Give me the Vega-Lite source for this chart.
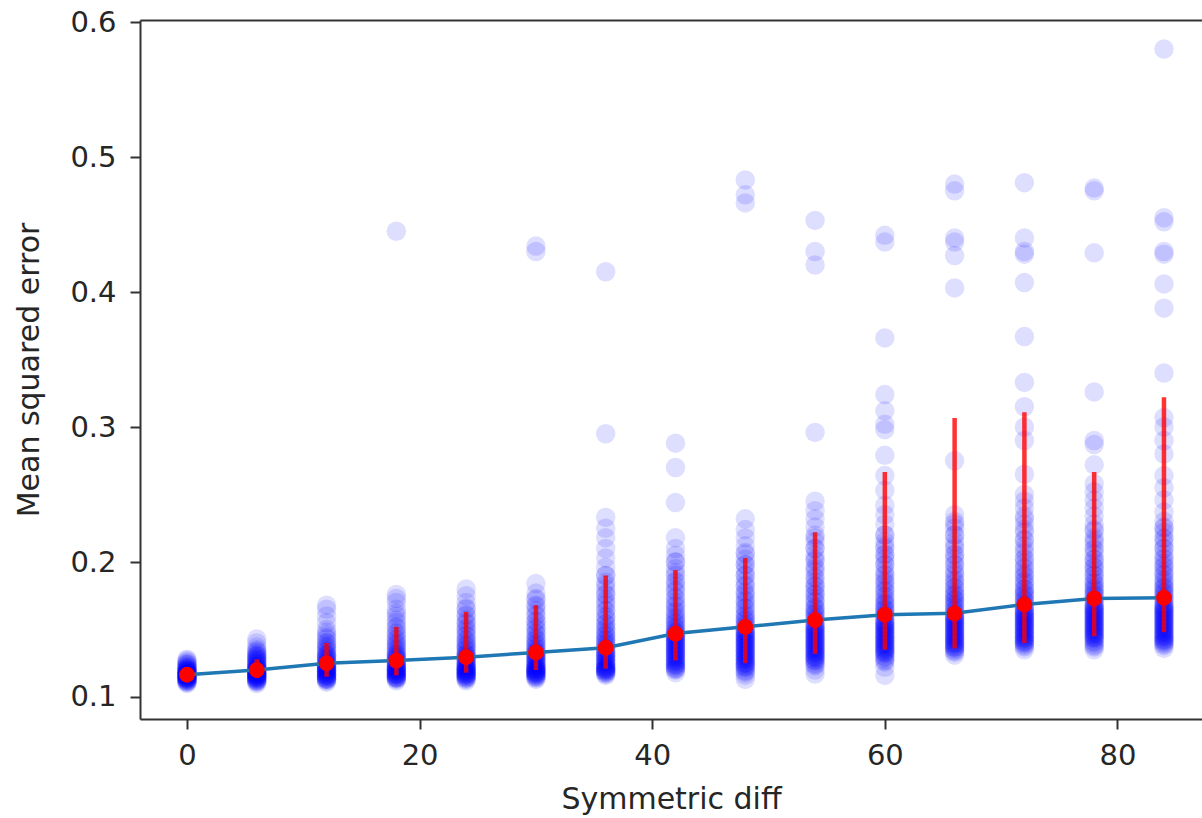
{
"$schema":"https://vega.github.io/schema/vega-lite/v6.json",
"width":1062,"height":699,
"autosize":{"type":"none"},
"padding":{"left":140,"top":20,"right":0,"bottom":99},
"background":"white",
"config":{"view":{"stroke":null},
"axis":{"labelFont":"DejaVu Sans","titleFont":"DejaVu Sans","labelFontSize":29,"titleFontSize":30,"labelColor":"#262626","titleColor":"#262626","titleFontWeight":"normal","domainColor":"#333","domainWidth":2,"tickColor":"#333","tickWidth":2,"tickSize":10,"grid":false}},
"datasets":{
"pts":[
{"diff":0,"mse":0.110},{"diff":0,"mse":0.111},{"diff":0,"mse":0.111},{"diff":0,"mse":0.112},{"diff":0,"mse":0.112},{"diff":0,"mse":0.113},{"diff":0,"mse":0.113},{"diff":0,"mse":0.113},{"diff":0,"mse":0.114},{"diff":0,"mse":0.114},{"diff":0,"mse":0.114},{"diff":0,"mse":0.115},{"diff":0,"mse":0.115},{"diff":0,"mse":0.115},{"diff":0,"mse":0.115},{"diff":0,"mse":0.116},{"diff":0,"mse":0.116},{"diff":0,"mse":0.116},{"diff":0,"mse":0.116},{"diff":0,"mse":0.117},{"diff":0,"mse":0.117},{"diff":0,"mse":0.117},{"diff":0,"mse":0.117},{"diff":0,"mse":0.118},{"diff":0,"mse":0.118},{"diff":0,"mse":0.118},{"diff":0,"mse":0.119},{"diff":0,"mse":0.119},{"diff":0,"mse":0.119},{"diff":0,"mse":0.120},{"diff":0,"mse":0.120},{"diff":0,"mse":0.121},{"diff":0,"mse":0.121},{"diff":0,"mse":0.122},{"diff":0,"mse":0.123},{"diff":0,"mse":0.124},{"diff":0,"mse":0.125},{"diff":0,"mse":0.126},{"diff":0,"mse":0.127},{"diff":0,"mse":0.128},
{"diff":0,"mse":0.112},{"diff":0,"mse":0.114},{"diff":0,"mse":0.116},{"diff":0,"mse":0.118},{"diff":0,"mse":0.120},{"diff":0,"mse":0.122},{"diff":0,"mse":0.124},
{"diff":6,"mse":0.110},{"diff":6,"mse":0.111},{"diff":6,"mse":0.112},{"diff":6,"mse":0.112},{"diff":6,"mse":0.113},{"diff":6,"mse":0.113},{"diff":6,"mse":0.114},{"diff":6,"mse":0.114},{"diff":6,"mse":0.115},{"diff":6,"mse":0.115},{"diff":6,"mse":0.115},{"diff":6,"mse":0.116},{"diff":6,"mse":0.116},{"diff":6,"mse":0.116},{"diff":6,"mse":0.117},{"diff":6,"mse":0.117},{"diff":6,"mse":0.117},{"diff":6,"mse":0.118},{"diff":6,"mse":0.118},{"diff":6,"mse":0.118},{"diff":6,"mse":0.119},{"diff":6,"mse":0.119},{"diff":6,"mse":0.120},{"diff":6,"mse":0.120},{"diff":6,"mse":0.121},{"diff":6,"mse":0.121},{"diff":6,"mse":0.122},{"diff":6,"mse":0.122},{"diff":6,"mse":0.123},{"diff":6,"mse":0.124},{"diff":6,"mse":0.125},{"diff":6,"mse":0.126},{"diff":6,"mse":0.127},{"diff":6,"mse":0.128},{"diff":6,"mse":0.129},{"diff":6,"mse":0.130},{"diff":6,"mse":0.131},{"diff":6,"mse":0.133},{"diff":6,"mse":0.135},{"diff":6,"mse":0.137},{"diff":6,"mse":0.140},{"diff":6,"mse":0.143},
{"diff":6,"mse":0.112},{"diff":6,"mse":0.114},{"diff":6,"mse":0.116},{"diff":6,"mse":0.118},{"diff":6,"mse":0.120},{"diff":6,"mse":0.122},{"diff":6,"mse":0.124},{"diff":6,"mse":0.126},{"diff":6,"mse":0.128},{"diff":6,"mse":0.130},{"diff":6,"mse":0.132},{"diff":6,"mse":0.134},
{"diff":12,"mse":0.111},{"diff":12,"mse":0.112},{"diff":12,"mse":0.113},{"diff":12,"mse":0.113},{"diff":12,"mse":0.114},{"diff":12,"mse":0.114},{"diff":12,"mse":0.115},{"diff":12,"mse":0.115},{"diff":12,"mse":0.116},{"diff":12,"mse":0.116},{"diff":12,"mse":0.117},{"diff":12,"mse":0.117},{"diff":12,"mse":0.118},{"diff":12,"mse":0.118},{"diff":12,"mse":0.119},{"diff":12,"mse":0.119},{"diff":12,"mse":0.120},{"diff":12,"mse":0.120},{"diff":12,"mse":0.121},{"diff":12,"mse":0.121},{"diff":12,"mse":0.122},{"diff":12,"mse":0.122},{"diff":12,"mse":0.123},{"diff":12,"mse":0.123},{"diff":12,"mse":0.124},{"diff":12,"mse":0.125},{"diff":12,"mse":0.126},{"diff":12,"mse":0.127},{"diff":12,"mse":0.128},{"diff":12,"mse":0.129},{"diff":12,"mse":0.130},{"diff":12,"mse":0.131},{"diff":12,"mse":0.132},{"diff":12,"mse":0.134},{"diff":12,"mse":0.136},{"diff":12,"mse":0.138},{"diff":12,"mse":0.140},{"diff":12,"mse":0.143},{"diff":12,"mse":0.146},{"diff":12,"mse":0.150},{"diff":12,"mse":0.155},{"diff":12,"mse":0.160},{"diff":12,"mse":0.165},{"diff":12,"mse":0.168},
{"diff":12,"mse":0.113},{"diff":12,"mse":0.116},{"diff":12,"mse":0.119},{"diff":12,"mse":0.122},{"diff":12,"mse":0.125},{"diff":12,"mse":0.128},{"diff":12,"mse":0.131},{"diff":12,"mse":0.134},{"diff":12,"mse":0.137},{"diff":12,"mse":0.140},{"diff":12,"mse":0.144},{"diff":12,"mse":0.148},
{"diff":18,"mse":0.112},{"diff":18,"mse":0.113},{"diff":18,"mse":0.114},{"diff":18,"mse":0.114},{"diff":18,"mse":0.115},{"diff":18,"mse":0.115},{"diff":18,"mse":0.116},{"diff":18,"mse":0.116},{"diff":18,"mse":0.117},{"diff":18,"mse":0.117},{"diff":18,"mse":0.118},{"diff":18,"mse":0.118},{"diff":18,"mse":0.119},{"diff":18,"mse":0.119},{"diff":18,"mse":0.120},{"diff":18,"mse":0.120},{"diff":18,"mse":0.121},{"diff":18,"mse":0.121},{"diff":18,"mse":0.122},{"diff":18,"mse":0.122},{"diff":18,"mse":0.123},{"diff":18,"mse":0.124},{"diff":18,"mse":0.125},{"diff":18,"mse":0.126},{"diff":18,"mse":0.127},{"diff":18,"mse":0.128},{"diff":18,"mse":0.129},{"diff":18,"mse":0.130},{"diff":18,"mse":0.131},{"diff":18,"mse":0.132},{"diff":18,"mse":0.134},{"diff":18,"mse":0.136},{"diff":18,"mse":0.138},{"diff":18,"mse":0.140},{"diff":18,"mse":0.142},{"diff":18,"mse":0.145},{"diff":18,"mse":0.148},{"diff":18,"mse":0.151},{"diff":18,"mse":0.155},{"diff":18,"mse":0.160},{"diff":18,"mse":0.165},{"diff":18,"mse":0.170},{"diff":18,"mse":0.173},{"diff":18,"mse":0.176},{"diff":18,"mse":0.445},
{"diff":18,"mse":0.114},{"diff":18,"mse":0.117},{"diff":18,"mse":0.120},{"diff":18,"mse":0.123},{"diff":18,"mse":0.126},{"diff":18,"mse":0.129},{"diff":18,"mse":0.132},{"diff":18,"mse":0.135},{"diff":18,"mse":0.139},{"diff":18,"mse":0.143},{"diff":18,"mse":0.147},{"diff":18,"mse":0.152},{"diff":18,"mse":0.157},{"diff":18,"mse":0.162},
{"diff":24,"mse":0.112},{"diff":24,"mse":0.113},{"diff":24,"mse":0.114},{"diff":24,"mse":0.115},{"diff":24,"mse":0.115},{"diff":24,"mse":0.116},{"diff":24,"mse":0.116},{"diff":24,"mse":0.117},{"diff":24,"mse":0.117},{"diff":24,"mse":0.118},{"diff":24,"mse":0.118},{"diff":24,"mse":0.119},{"diff":24,"mse":0.119},{"diff":24,"mse":0.120},{"diff":24,"mse":0.120},{"diff":24,"mse":0.121},{"diff":24,"mse":0.121},{"diff":24,"mse":0.122},{"diff":24,"mse":0.122},{"diff":24,"mse":0.123},{"diff":24,"mse":0.124},{"diff":24,"mse":0.125},{"diff":24,"mse":0.126},{"diff":24,"mse":0.127},{"diff":24,"mse":0.128},{"diff":24,"mse":0.129},{"diff":24,"mse":0.130},{"diff":24,"mse":0.131},{"diff":24,"mse":0.132},{"diff":24,"mse":0.134},{"diff":24,"mse":0.136},{"diff":24,"mse":0.138},{"diff":24,"mse":0.140},{"diff":24,"mse":0.142},{"diff":24,"mse":0.145},{"diff":24,"mse":0.148},{"diff":24,"mse":0.151},{"diff":24,"mse":0.154},{"diff":24,"mse":0.157},{"diff":24,"mse":0.161},{"diff":24,"mse":0.165},{"diff":24,"mse":0.170},{"diff":24,"mse":0.175},{"diff":24,"mse":0.180},
{"diff":24,"mse":0.114},{"diff":24,"mse":0.117},{"diff":24,"mse":0.120},{"diff":24,"mse":0.123},{"diff":24,"mse":0.126},{"diff":24,"mse":0.129},{"diff":24,"mse":0.132},{"diff":24,"mse":0.135},{"diff":24,"mse":0.138},{"diff":24,"mse":0.142},{"diff":24,"mse":0.146},{"diff":24,"mse":0.150},{"diff":24,"mse":0.155},{"diff":24,"mse":0.160},{"diff":24,"mse":0.166},
{"diff":30,"mse":0.113},{"diff":30,"mse":0.114},{"diff":30,"mse":0.115},{"diff":30,"mse":0.116},{"diff":30,"mse":0.116},{"diff":30,"mse":0.117},{"diff":30,"mse":0.117},{"diff":30,"mse":0.118},{"diff":30,"mse":0.118},{"diff":30,"mse":0.119},{"diff":30,"mse":0.119},{"diff":30,"mse":0.120},{"diff":30,"mse":0.120},{"diff":30,"mse":0.121},{"diff":30,"mse":0.121},{"diff":30,"mse":0.122},{"diff":30,"mse":0.122},{"diff":30,"mse":0.123},{"diff":30,"mse":0.124},{"diff":30,"mse":0.125},{"diff":30,"mse":0.126},{"diff":30,"mse":0.127},{"diff":30,"mse":0.128},{"diff":30,"mse":0.129},{"diff":30,"mse":0.130},{"diff":30,"mse":0.131},{"diff":30,"mse":0.132},{"diff":30,"mse":0.133},{"diff":30,"mse":0.134},{"diff":30,"mse":0.136},{"diff":30,"mse":0.138},{"diff":30,"mse":0.140},{"diff":30,"mse":0.142},{"diff":30,"mse":0.144},{"diff":30,"mse":0.147},{"diff":30,"mse":0.150},{"diff":30,"mse":0.153},{"diff":30,"mse":0.156},{"diff":30,"mse":0.160},{"diff":30,"mse":0.164},{"diff":30,"mse":0.168},{"diff":30,"mse":0.172},{"diff":30,"mse":0.177},{"diff":30,"mse":0.184},{"diff":30,"mse":0.430},{"diff":30,"mse":0.434},
{"diff":30,"mse":0.115},{"diff":30,"mse":0.118},{"diff":30,"mse":0.121},{"diff":30,"mse":0.124},{"diff":30,"mse":0.127},{"diff":30,"mse":0.130},{"diff":30,"mse":0.133},{"diff":30,"mse":0.136},{"diff":30,"mse":0.139},{"diff":30,"mse":0.143},{"diff":30,"mse":0.147},{"diff":30,"mse":0.151},{"diff":30,"mse":0.156},{"diff":30,"mse":0.161},{"diff":30,"mse":0.167},{"diff":30,"mse":0.173},
{"diff":36,"mse":0.116},{"diff":36,"mse":0.117},{"diff":36,"mse":0.118},{"diff":36,"mse":0.119},{"diff":36,"mse":0.119},{"diff":36,"mse":0.120},{"diff":36,"mse":0.120},{"diff":36,"mse":0.121},{"diff":36,"mse":0.121},{"diff":36,"mse":0.122},{"diff":36,"mse":0.122},{"diff":36,"mse":0.123},{"diff":36,"mse":0.124},{"diff":36,"mse":0.125},{"diff":36,"mse":0.126},{"diff":36,"mse":0.127},{"diff":36,"mse":0.128},{"diff":36,"mse":0.129},{"diff":36,"mse":0.130},{"diff":36,"mse":0.131},{"diff":36,"mse":0.132},{"diff":36,"mse":0.133},{"diff":36,"mse":0.134},{"diff":36,"mse":0.136},{"diff":36,"mse":0.138},{"diff":36,"mse":0.140},{"diff":36,"mse":0.142},{"diff":36,"mse":0.144},{"diff":36,"mse":0.146},{"diff":36,"mse":0.148},{"diff":36,"mse":0.151},{"diff":36,"mse":0.154},{"diff":36,"mse":0.157},{"diff":36,"mse":0.160},{"diff":36,"mse":0.164},{"diff":36,"mse":0.168},{"diff":36,"mse":0.172},{"diff":36,"mse":0.176},{"diff":36,"mse":0.180},{"diff":36,"mse":0.185},{"diff":36,"mse":0.190},{"diff":36,"mse":0.196},{"diff":36,"mse":0.203},{"diff":36,"mse":0.210},{"diff":36,"mse":0.218},{"diff":36,"mse":0.225},{"diff":36,"mse":0.233},{"diff":36,"mse":0.295},{"diff":36,"mse":0.415},
{"diff":36,"mse":0.118},{"diff":36,"mse":0.121},{"diff":36,"mse":0.124},{"diff":36,"mse":0.127},{"diff":36,"mse":0.130},{"diff":36,"mse":0.133},{"diff":36,"mse":0.136},{"diff":36,"mse":0.139},{"diff":36,"mse":0.142},{"diff":36,"mse":0.146},{"diff":36,"mse":0.150},{"diff":36,"mse":0.154},{"diff":36,"mse":0.159},{"diff":36,"mse":0.164},{"diff":36,"mse":0.170},{"diff":36,"mse":0.176},{"diff":36,"mse":0.183},{"diff":36,"mse":0.190},
{"diff":42,"mse":0.118},{"diff":42,"mse":0.120},{"diff":42,"mse":0.121},{"diff":42,"mse":0.122},{"diff":42,"mse":0.123},{"diff":42,"mse":0.124},{"diff":42,"mse":0.125},{"diff":42,"mse":0.126},{"diff":42,"mse":0.127},{"diff":42,"mse":0.128},{"diff":42,"mse":0.129},{"diff":42,"mse":0.130},{"diff":42,"mse":0.131},{"diff":42,"mse":0.132},{"diff":42,"mse":0.133},{"diff":42,"mse":0.134},{"diff":42,"mse":0.135},{"diff":42,"mse":0.136},{"diff":42,"mse":0.137},{"diff":42,"mse":0.138},{"diff":42,"mse":0.139},{"diff":42,"mse":0.140},{"diff":42,"mse":0.141},{"diff":42,"mse":0.142},{"diff":42,"mse":0.143},{"diff":42,"mse":0.144},{"diff":42,"mse":0.145},{"diff":42,"mse":0.146},{"diff":42,"mse":0.147},{"diff":42,"mse":0.148},{"diff":42,"mse":0.150},{"diff":42,"mse":0.152},{"diff":42,"mse":0.154},{"diff":42,"mse":0.156},{"diff":42,"mse":0.158},{"diff":42,"mse":0.161},{"diff":42,"mse":0.164},{"diff":42,"mse":0.167},{"diff":42,"mse":0.170},{"diff":42,"mse":0.174},{"diff":42,"mse":0.178},{"diff":42,"mse":0.182},{"diff":42,"mse":0.186},{"diff":42,"mse":0.190},{"diff":42,"mse":0.195},{"diff":42,"mse":0.200},{"diff":42,"mse":0.205},{"diff":42,"mse":0.210},{"diff":42,"mse":0.218},{"diff":42,"mse":0.244},{"diff":42,"mse":0.270},{"diff":42,"mse":0.288},
{"diff":42,"mse":0.121},{"diff":42,"mse":0.124},{"diff":42,"mse":0.127},{"diff":42,"mse":0.130},{"diff":42,"mse":0.133},{"diff":42,"mse":0.136},{"diff":42,"mse":0.139},{"diff":42,"mse":0.142},{"diff":42,"mse":0.145},{"diff":42,"mse":0.148},{"diff":42,"mse":0.151},{"diff":42,"mse":0.155},{"diff":42,"mse":0.159},{"diff":42,"mse":0.163},{"diff":42,"mse":0.168},{"diff":42,"mse":0.173},{"diff":42,"mse":0.179},{"diff":42,"mse":0.185},{"diff":42,"mse":0.192},{"diff":42,"mse":0.200},
{"diff":48,"mse":0.113},{"diff":48,"mse":0.116},{"diff":48,"mse":0.118},{"diff":48,"mse":0.120},{"diff":48,"mse":0.122},{"diff":48,"mse":0.123},{"diff":48,"mse":0.124},{"diff":48,"mse":0.125},{"diff":48,"mse":0.126},{"diff":48,"mse":0.127},{"diff":48,"mse":0.128},{"diff":48,"mse":0.129},{"diff":48,"mse":0.130},{"diff":48,"mse":0.131},{"diff":48,"mse":0.132},{"diff":48,"mse":0.133},{"diff":48,"mse":0.134},{"diff":48,"mse":0.135},{"diff":48,"mse":0.136},{"diff":48,"mse":0.137},{"diff":48,"mse":0.138},{"diff":48,"mse":0.139},{"diff":48,"mse":0.140},{"diff":48,"mse":0.141},{"diff":48,"mse":0.142},{"diff":48,"mse":0.143},{"diff":48,"mse":0.144},{"diff":48,"mse":0.145},{"diff":48,"mse":0.146},{"diff":48,"mse":0.147},{"diff":48,"mse":0.148},{"diff":48,"mse":0.149},{"diff":48,"mse":0.150},{"diff":48,"mse":0.152},{"diff":48,"mse":0.154},{"diff":48,"mse":0.156},{"diff":48,"mse":0.158},{"diff":48,"mse":0.160},{"diff":48,"mse":0.163},{"diff":48,"mse":0.166},{"diff":48,"mse":0.169},{"diff":48,"mse":0.172},{"diff":48,"mse":0.175},{"diff":48,"mse":0.178},{"diff":48,"mse":0.182},{"diff":48,"mse":0.186},{"diff":48,"mse":0.190},{"diff":48,"mse":0.194},{"diff":48,"mse":0.198},{"diff":48,"mse":0.202},{"diff":48,"mse":0.207},{"diff":48,"mse":0.212},{"diff":48,"mse":0.218},{"diff":48,"mse":0.224},{"diff":48,"mse":0.232},{"diff":48,"mse":0.466},{"diff":48,"mse":0.472},{"diff":48,"mse":0.483},
{"diff":48,"mse":0.119},{"diff":48,"mse":0.122},{"diff":48,"mse":0.125},{"diff":48,"mse":0.128},{"diff":48,"mse":0.131},{"diff":48,"mse":0.134},{"diff":48,"mse":0.137},{"diff":48,"mse":0.140},{"diff":48,"mse":0.143},{"diff":48,"mse":0.146},{"diff":48,"mse":0.149},{"diff":48,"mse":0.153},{"diff":48,"mse":0.157},{"diff":48,"mse":0.161},{"diff":48,"mse":0.166},{"diff":48,"mse":0.171},{"diff":48,"mse":0.177},{"diff":48,"mse":0.183},{"diff":48,"mse":0.190},{"diff":48,"mse":0.198},{"diff":48,"mse":0.206},
{"diff":54,"mse":0.117},{"diff":54,"mse":0.120},{"diff":54,"mse":0.123},{"diff":54,"mse":0.125},{"diff":54,"mse":0.127},{"diff":54,"mse":0.128},{"diff":54,"mse":0.129},{"diff":54,"mse":0.130},{"diff":54,"mse":0.131},{"diff":54,"mse":0.132},{"diff":54,"mse":0.133},{"diff":54,"mse":0.134},{"diff":54,"mse":0.135},{"diff":54,"mse":0.136},{"diff":54,"mse":0.137},{"diff":54,"mse":0.138},{"diff":54,"mse":0.139},{"diff":54,"mse":0.140},{"diff":54,"mse":0.141},{"diff":54,"mse":0.142},{"diff":54,"mse":0.143},{"diff":54,"mse":0.144},{"diff":54,"mse":0.145},{"diff":54,"mse":0.146},{"diff":54,"mse":0.147},{"diff":54,"mse":0.148},{"diff":54,"mse":0.149},{"diff":54,"mse":0.150},{"diff":54,"mse":0.151},{"diff":54,"mse":0.152},{"diff":54,"mse":0.153},{"diff":54,"mse":0.155},{"diff":54,"mse":0.157},{"diff":54,"mse":0.159},{"diff":54,"mse":0.161},{"diff":54,"mse":0.163},{"diff":54,"mse":0.165},{"diff":54,"mse":0.167},{"diff":54,"mse":0.170},{"diff":54,"mse":0.173},{"diff":54,"mse":0.176},{"diff":54,"mse":0.179},{"diff":54,"mse":0.182},{"diff":54,"mse":0.185},{"diff":54,"mse":0.189},{"diff":54,"mse":0.193},{"diff":54,"mse":0.197},{"diff":54,"mse":0.201},{"diff":54,"mse":0.205},{"diff":54,"mse":0.210},{"diff":54,"mse":0.215},{"diff":54,"mse":0.220},{"diff":54,"mse":0.226},{"diff":54,"mse":0.232},{"diff":54,"mse":0.238},{"diff":54,"mse":0.245},{"diff":54,"mse":0.296},{"diff":54,"mse":0.420},{"diff":54,"mse":0.430},{"diff":54,"mse":0.453},
{"diff":54,"mse":0.124},{"diff":54,"mse":0.127},{"diff":54,"mse":0.130},{"diff":54,"mse":0.133},{"diff":54,"mse":0.136},{"diff":54,"mse":0.139},{"diff":54,"mse":0.142},{"diff":54,"mse":0.145},{"diff":54,"mse":0.148},{"diff":54,"mse":0.151},{"diff":54,"mse":0.154},{"diff":54,"mse":0.158},{"diff":54,"mse":0.162},{"diff":54,"mse":0.166},{"diff":54,"mse":0.171},{"diff":54,"mse":0.176},{"diff":54,"mse":0.182},{"diff":54,"mse":0.188},{"diff":54,"mse":0.195},{"diff":54,"mse":0.202},{"diff":54,"mse":0.210},{"diff":54,"mse":0.218},
{"diff":60,"mse":0.116},{"diff":60,"mse":0.122},{"diff":60,"mse":0.126},{"diff":60,"mse":0.128},{"diff":60,"mse":0.130},{"diff":60,"mse":0.132},{"diff":60,"mse":0.133},{"diff":60,"mse":0.134},{"diff":60,"mse":0.135},{"diff":60,"mse":0.136},{"diff":60,"mse":0.137},{"diff":60,"mse":0.138},{"diff":60,"mse":0.139},{"diff":60,"mse":0.140},{"diff":60,"mse":0.141},{"diff":60,"mse":0.142},{"diff":60,"mse":0.143},{"diff":60,"mse":0.144},{"diff":60,"mse":0.145},{"diff":60,"mse":0.146},{"diff":60,"mse":0.147},{"diff":60,"mse":0.148},{"diff":60,"mse":0.149},{"diff":60,"mse":0.150},{"diff":60,"mse":0.151},{"diff":60,"mse":0.152},{"diff":60,"mse":0.153},{"diff":60,"mse":0.154},{"diff":60,"mse":0.155},{"diff":60,"mse":0.156},{"diff":60,"mse":0.158},{"diff":60,"mse":0.160},{"diff":60,"mse":0.162},{"diff":60,"mse":0.164},{"diff":60,"mse":0.166},{"diff":60,"mse":0.168},{"diff":60,"mse":0.170},{"diff":60,"mse":0.172},{"diff":60,"mse":0.175},{"diff":60,"mse":0.178},{"diff":60,"mse":0.181},{"diff":60,"mse":0.184},{"diff":60,"mse":0.187},{"diff":60,"mse":0.190},{"diff":60,"mse":0.194},{"diff":60,"mse":0.198},{"diff":60,"mse":0.202},{"diff":60,"mse":0.206},{"diff":60,"mse":0.210},{"diff":60,"mse":0.215},{"diff":60,"mse":0.220},{"diff":60,"mse":0.228},{"diff":60,"mse":0.235},{"diff":60,"mse":0.242},{"diff":60,"mse":0.253},{"diff":60,"mse":0.264},{"diff":60,"mse":0.279},{"diff":60,"mse":0.298},{"diff":60,"mse":0.302},{"diff":60,"mse":0.312},{"diff":60,"mse":0.324},{"diff":60,"mse":0.366},{"diff":60,"mse":0.437},{"diff":60,"mse":0.442},
{"diff":60,"mse":0.127},{"diff":60,"mse":0.130},{"diff":60,"mse":0.133},{"diff":60,"mse":0.136},{"diff":60,"mse":0.139},{"diff":60,"mse":0.142},{"diff":60,"mse":0.145},{"diff":60,"mse":0.148},{"diff":60,"mse":0.151},{"diff":60,"mse":0.154},{"diff":60,"mse":0.157},{"diff":60,"mse":0.161},{"diff":60,"mse":0.165},{"diff":60,"mse":0.169},{"diff":60,"mse":0.174},{"diff":60,"mse":0.179},{"diff":60,"mse":0.185},{"diff":60,"mse":0.191},{"diff":60,"mse":0.198},{"diff":60,"mse":0.205},{"diff":60,"mse":0.212},{"diff":60,"mse":0.220},
{"diff":66,"mse":0.131},{"diff":66,"mse":0.133},{"diff":66,"mse":0.135},{"diff":66,"mse":0.136},{"diff":66,"mse":0.137},{"diff":66,"mse":0.138},{"diff":66,"mse":0.139},{"diff":66,"mse":0.140},{"diff":66,"mse":0.141},{"diff":66,"mse":0.142},{"diff":66,"mse":0.143},{"diff":66,"mse":0.144},{"diff":66,"mse":0.145},{"diff":66,"mse":0.146},{"diff":66,"mse":0.147},{"diff":66,"mse":0.148},{"diff":66,"mse":0.149},{"diff":66,"mse":0.150},{"diff":66,"mse":0.151},{"diff":66,"mse":0.152},{"diff":66,"mse":0.153},{"diff":66,"mse":0.154},{"diff":66,"mse":0.155},{"diff":66,"mse":0.156},{"diff":66,"mse":0.157},{"diff":66,"mse":0.158},{"diff":66,"mse":0.159},{"diff":66,"mse":0.160},{"diff":66,"mse":0.162},{"diff":66,"mse":0.164},{"diff":66,"mse":0.166},{"diff":66,"mse":0.168},{"diff":66,"mse":0.170},{"diff":66,"mse":0.172},{"diff":66,"mse":0.174},{"diff":66,"mse":0.176},{"diff":66,"mse":0.178},{"diff":66,"mse":0.181},{"diff":66,"mse":0.184},{"diff":66,"mse":0.187},{"diff":66,"mse":0.190},{"diff":66,"mse":0.194},{"diff":66,"mse":0.198},{"diff":66,"mse":0.202},{"diff":66,"mse":0.206},{"diff":66,"mse":0.210},{"diff":66,"mse":0.215},{"diff":66,"mse":0.220},{"diff":66,"mse":0.225},{"diff":66,"mse":0.230},{"diff":66,"mse":0.235},{"diff":66,"mse":0.275},{"diff":66,"mse":0.403},{"diff":66,"mse":0.427},{"diff":66,"mse":0.437},{"diff":66,"mse":0.440},{"diff":66,"mse":0.475},{"diff":66,"mse":0.480},
{"diff":66,"mse":0.134},{"diff":66,"mse":0.137},{"diff":66,"mse":0.140},{"diff":66,"mse":0.143},{"diff":66,"mse":0.146},{"diff":66,"mse":0.149},{"diff":66,"mse":0.152},{"diff":66,"mse":0.155},{"diff":66,"mse":0.158},{"diff":66,"mse":0.161},{"diff":66,"mse":0.164},{"diff":66,"mse":0.168},{"diff":66,"mse":0.172},{"diff":66,"mse":0.176},{"diff":66,"mse":0.181},{"diff":66,"mse":0.186},{"diff":66,"mse":0.192},{"diff":66,"mse":0.198},{"diff":66,"mse":0.205},{"diff":66,"mse":0.212},{"diff":66,"mse":0.220},{"diff":66,"mse":0.228},
{"diff":72,"mse":0.135},{"diff":72,"mse":0.137},{"diff":72,"mse":0.139},{"diff":72,"mse":0.140},{"diff":72,"mse":0.141},{"diff":72,"mse":0.142},{"diff":72,"mse":0.143},{"diff":72,"mse":0.144},{"diff":72,"mse":0.145},{"diff":72,"mse":0.146},{"diff":72,"mse":0.147},{"diff":72,"mse":0.148},{"diff":72,"mse":0.149},{"diff":72,"mse":0.150},{"diff":72,"mse":0.151},{"diff":72,"mse":0.152},{"diff":72,"mse":0.153},{"diff":72,"mse":0.154},{"diff":72,"mse":0.155},{"diff":72,"mse":0.156},{"diff":72,"mse":0.157},{"diff":72,"mse":0.158},{"diff":72,"mse":0.159},{"diff":72,"mse":0.160},{"diff":72,"mse":0.161},{"diff":72,"mse":0.162},{"diff":72,"mse":0.163},{"diff":72,"mse":0.164},{"diff":72,"mse":0.166},{"diff":72,"mse":0.168},{"diff":72,"mse":0.170},{"diff":72,"mse":0.172},{"diff":72,"mse":0.174},{"diff":72,"mse":0.176},{"diff":72,"mse":0.178},{"diff":72,"mse":0.180},{"diff":72,"mse":0.183},{"diff":72,"mse":0.186},{"diff":72,"mse":0.189},{"diff":72,"mse":0.192},{"diff":72,"mse":0.195},{"diff":72,"mse":0.199},{"diff":72,"mse":0.203},{"diff":72,"mse":0.207},{"diff":72,"mse":0.212},{"diff":72,"mse":0.217},{"diff":72,"mse":0.222},{"diff":72,"mse":0.228},{"diff":72,"mse":0.234},{"diff":72,"mse":0.240},{"diff":72,"mse":0.245},{"diff":72,"mse":0.250},{"diff":72,"mse":0.265},{"diff":72,"mse":0.290},{"diff":72,"mse":0.300},{"diff":72,"mse":0.315},{"diff":72,"mse":0.333},{"diff":72,"mse":0.367},{"diff":72,"mse":0.407},{"diff":72,"mse":0.428},{"diff":72,"mse":0.430},{"diff":72,"mse":0.440},{"diff":72,"mse":0.481},
{"diff":72,"mse":0.138},{"diff":72,"mse":0.141},{"diff":72,"mse":0.144},{"diff":72,"mse":0.147},{"diff":72,"mse":0.150},{"diff":72,"mse":0.153},{"diff":72,"mse":0.156},{"diff":72,"mse":0.159},{"diff":72,"mse":0.162},{"diff":72,"mse":0.165},{"diff":72,"mse":0.168},{"diff":72,"mse":0.172},{"diff":72,"mse":0.176},{"diff":72,"mse":0.180},{"diff":72,"mse":0.185},{"diff":72,"mse":0.190},{"diff":72,"mse":0.196},{"diff":72,"mse":0.202},{"diff":72,"mse":0.209},{"diff":72,"mse":0.216},{"diff":72,"mse":0.224},{"diff":72,"mse":0.232},
{"diff":78,"mse":0.135},{"diff":78,"mse":0.137},{"diff":78,"mse":0.139},{"diff":78,"mse":0.141},{"diff":78,"mse":0.143},{"diff":78,"mse":0.144},{"diff":78,"mse":0.145},{"diff":78,"mse":0.146},{"diff":78,"mse":0.147},{"diff":78,"mse":0.148},{"diff":78,"mse":0.149},{"diff":78,"mse":0.150},{"diff":78,"mse":0.151},{"diff":78,"mse":0.152},{"diff":78,"mse":0.153},{"diff":78,"mse":0.154},{"diff":78,"mse":0.155},{"diff":78,"mse":0.156},{"diff":78,"mse":0.157},{"diff":78,"mse":0.158},{"diff":78,"mse":0.159},{"diff":78,"mse":0.160},{"diff":78,"mse":0.161},{"diff":78,"mse":0.162},{"diff":78,"mse":0.163},{"diff":78,"mse":0.164},{"diff":78,"mse":0.165},{"diff":78,"mse":0.166},{"diff":78,"mse":0.167},{"diff":78,"mse":0.168},{"diff":78,"mse":0.170},{"diff":78,"mse":0.172},{"diff":78,"mse":0.174},{"diff":78,"mse":0.176},{"diff":78,"mse":0.178},{"diff":78,"mse":0.180},{"diff":78,"mse":0.182},{"diff":78,"mse":0.184},{"diff":78,"mse":0.187},{"diff":78,"mse":0.190},{"diff":78,"mse":0.193},{"diff":78,"mse":0.196},{"diff":78,"mse":0.199},{"diff":78,"mse":0.202},{"diff":78,"mse":0.206},{"diff":78,"mse":0.210},{"diff":78,"mse":0.214},{"diff":78,"mse":0.218},{"diff":78,"mse":0.223},{"diff":78,"mse":0.228},{"diff":78,"mse":0.234},{"diff":78,"mse":0.240},{"diff":78,"mse":0.246},{"diff":78,"mse":0.252},{"diff":78,"mse":0.258},{"diff":78,"mse":0.272},{"diff":78,"mse":0.287},{"diff":78,"mse":0.290},{"diff":78,"mse":0.326},{"diff":78,"mse":0.429},{"diff":78,"mse":0.475},{"diff":78,"mse":0.477},
{"diff":78,"mse":0.138},{"diff":78,"mse":0.141},{"diff":78,"mse":0.144},{"diff":78,"mse":0.147},{"diff":78,"mse":0.150},{"diff":78,"mse":0.153},{"diff":78,"mse":0.156},{"diff":78,"mse":0.159},{"diff":78,"mse":0.162},{"diff":78,"mse":0.165},{"diff":78,"mse":0.168},{"diff":78,"mse":0.172},{"diff":78,"mse":0.176},{"diff":78,"mse":0.180},{"diff":78,"mse":0.185},{"diff":78,"mse":0.190},{"diff":78,"mse":0.196},{"diff":78,"mse":0.202},{"diff":78,"mse":0.209},{"diff":78,"mse":0.216},{"diff":78,"mse":0.224},
{"diff":84,"mse":0.136},{"diff":84,"mse":0.138},{"diff":84,"mse":0.140},{"diff":84,"mse":0.141},{"diff":84,"mse":0.142},{"diff":84,"mse":0.143},{"diff":84,"mse":0.144},{"diff":84,"mse":0.145},{"diff":84,"mse":0.146},{"diff":84,"mse":0.147},{"diff":84,"mse":0.148},{"diff":84,"mse":0.149},{"diff":84,"mse":0.150},{"diff":84,"mse":0.151},{"diff":84,"mse":0.152},{"diff":84,"mse":0.153},{"diff":84,"mse":0.154},{"diff":84,"mse":0.155},{"diff":84,"mse":0.156},{"diff":84,"mse":0.157},{"diff":84,"mse":0.158},{"diff":84,"mse":0.159},{"diff":84,"mse":0.160},{"diff":84,"mse":0.161},{"diff":84,"mse":0.162},{"diff":84,"mse":0.163},{"diff":84,"mse":0.164},{"diff":84,"mse":0.165},{"diff":84,"mse":0.166},{"diff":84,"mse":0.167},{"diff":84,"mse":0.168},{"diff":84,"mse":0.170},{"diff":84,"mse":0.172},{"diff":84,"mse":0.174},{"diff":84,"mse":0.176},{"diff":84,"mse":0.178},{"diff":84,"mse":0.180},{"diff":84,"mse":0.182},{"diff":84,"mse":0.184},{"diff":84,"mse":0.187},{"diff":84,"mse":0.190},{"diff":84,"mse":0.193},{"diff":84,"mse":0.196},{"diff":84,"mse":0.199},{"diff":84,"mse":0.202},{"diff":84,"mse":0.206},{"diff":84,"mse":0.210},{"diff":84,"mse":0.214},{"diff":84,"mse":0.218},{"diff":84,"mse":0.222},{"diff":84,"mse":0.226},{"diff":84,"mse":0.230},{"diff":84,"mse":0.237},{"diff":84,"mse":0.246},{"diff":84,"mse":0.255},{"diff":84,"mse":0.264},{"diff":84,"mse":0.280},{"diff":84,"mse":0.290},{"diff":84,"mse":0.300},{"diff":84,"mse":0.307},{"diff":84,"mse":0.340},{"diff":84,"mse":0.388},{"diff":84,"mse":0.406},{"diff":84,"mse":0.428},{"diff":84,"mse":0.430},{"diff":84,"mse":0.452},{"diff":84,"mse":0.455},{"diff":84,"mse":0.580},
{"diff":84,"mse":0.139},{"diff":84,"mse":0.142},{"diff":84,"mse":0.145},{"diff":84,"mse":0.148},{"diff":84,"mse":0.151},{"diff":84,"mse":0.154},{"diff":84,"mse":0.157},{"diff":84,"mse":0.160},{"diff":84,"mse":0.163},{"diff":84,"mse":0.166},{"diff":84,"mse":0.169},{"diff":84,"mse":0.173},{"diff":84,"mse":0.177},{"diff":84,"mse":0.181},{"diff":84,"mse":0.186},{"diff":84,"mse":0.191},{"diff":84,"mse":0.197},{"diff":84,"mse":0.203},{"diff":84,"mse":0.210},{"diff":84,"mse":0.217},{"diff":84,"mse":0.225}
],
"stats":[
{"diff":0,"mean":0.1165,"lo":0.113,"hi":0.121},
{"diff":6,"mean":0.120,"lo":0.114,"hi":0.128},
{"diff":12,"mean":0.125,"lo":0.115,"hi":0.140},
{"diff":18,"mean":0.127,"lo":0.116,"hi":0.152},
{"diff":24,"mean":0.1295,"lo":0.118,"hi":0.163},
{"diff":30,"mean":0.133,"lo":0.120,"hi":0.168},
{"diff":36,"mean":0.1365,"lo":0.121,"hi":0.190},
{"diff":42,"mean":0.147,"lo":0.127,"hi":0.194},
{"diff":48,"mean":0.152,"lo":0.125,"hi":0.203},
{"diff":54,"mean":0.157,"lo":0.132,"hi":0.222},
{"diff":60,"mean":0.161,"lo":0.135,"hi":0.2667},
{"diff":66,"mean":0.162,"lo":0.136,"hi":0.3067},
{"diff":72,"mean":0.1685,"lo":0.140,"hi":0.311},
{"diff":78,"mean":0.173,"lo":0.145,"hi":0.2667},
{"diff":84,"mean":0.1735,"lo":0.148,"hi":0.322}
]},
"layer":[
{"data":{"name":"pts"},
 "mark":{"type":"circle","size":380,"opacity":0.13,"color":"#0000ff"},
 "encoding":{
  "x":{"field":"diff","type":"quantitative","scale":{"domain":[-4.04,87.27],"nice":false,"zero":false},
       "axis":{"title":"Symmetric diff","values":[0,20,40,60,80],"labelPadding":12,"titlePadding":14,"labelFlush":false}},
  "y":{"field":"mse","type":"quantitative","scale":{"domain":[0.0837,0.6015],"nice":false,"zero":false},
       "axis":{"title":"Mean squared error","values":[0.1,0.2,0.3,0.4,0.5,0.6],"format":".1f","labelPadding":14,"titlePadding":25}}}},
{"data":{"name":"stats"},
 "mark":{"type":"line","color":"#1f77b4","strokeWidth":3.5},
 "encoding":{"x":{"field":"diff","type":"quantitative","axis":null},"y":{"field":"mean","type":"quantitative"}}},
{"data":{"name":"stats"},
 "mark":{"type":"rule","color":"#ff0000","strokeWidth":4.5,"opacity":0.8},
 "encoding":{"x":{"field":"diff","type":"quantitative","axis":null},"y":{"field":"lo","type":"quantitative"},"y2":{"field":"hi"}}},
{"data":{"name":"stats"},
 "mark":{"type":"point","shape":"circle","filled":true,"size":250,"color":"#ff0000","opacity":1},
 "encoding":{"x":{"field":"diff","type":"quantitative","axis":null},"y":{"field":"mean","type":"quantitative"}}},
{"data":{"name":"stats"},
 "mark":{"type":"point","opacity":0},
 "encoding":{"x":{"field":"diff","type":"quantitative","axis":{"orient":"top","labels":false,"ticks":false,"title":null,"domain":true}},"y":{"field":"mean","type":"quantitative"}}}
],
"resolve":{"axis":{"x":"independent"}}
}
